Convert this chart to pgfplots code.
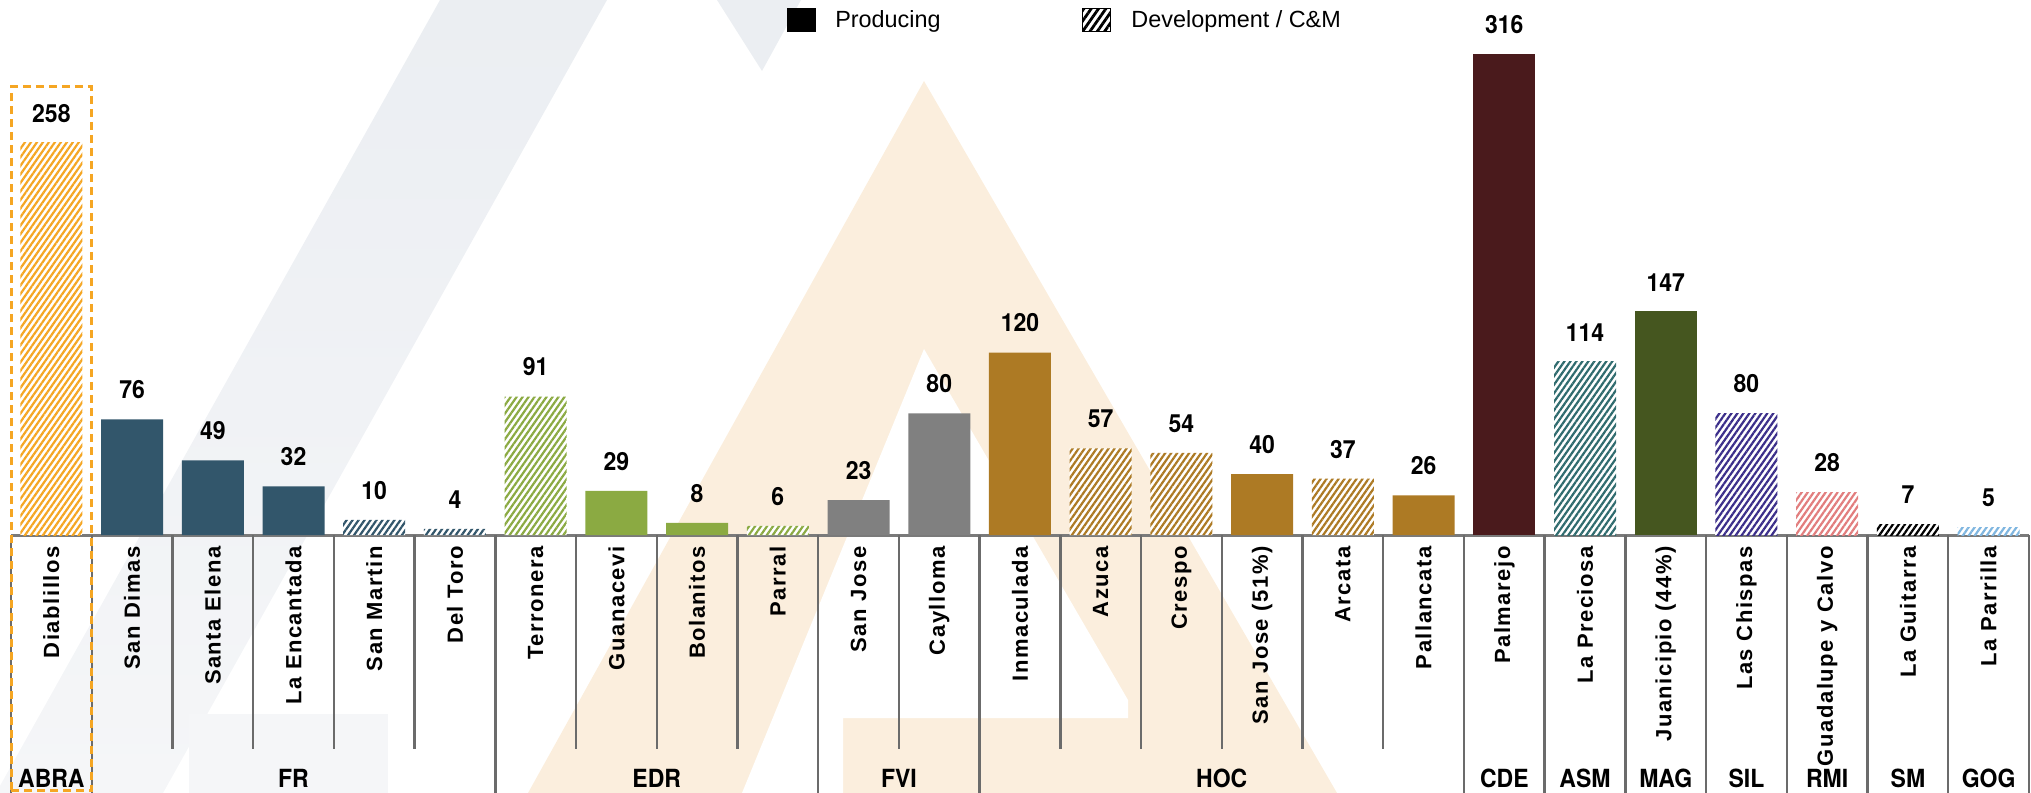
\documentclass[border=0pt]{standalone}
\usepackage{fontspec}
\setmainfont{Liberation Sans}
\newfontfamily\tickfam{Liberation Sans}[LetterSpace=7]
\newfontfamily\legfam{Liberation Sans}
\newfontfamily\condfont{TeX Gyre Heros}[FakeStretch=0.92]
\usepackage{pgfplots}
\pgfplotsset{compat=1.18}
\usetikzlibrary{patterns.meta}

\definecolor{frc}{HTML}{32566B}
\definecolor{edrc}{HTML}{8BAA42}
\definecolor{fvic}{HTML}{808080}
\definecolor{hocc}{HTML}{AD7A24}
\definecolor{cdec}{HTML}{4A1A1C}
\definecolor{asmc}{HTML}{2F6B6E}
\definecolor{magc}{HTML}{45561F}
\definecolor{silc}{HTML}{3B2E8A}
\definecolor{rmic}{HTML}{E27D7D}
\definecolor{smc}{HTML}{000000}
\definecolor{gogc}{HTML}{7FB6E0}
\definecolor{abrac}{HTML}{F5A623}
\definecolor{sepc}{HTML}{6B6B6B}
\definecolor{basec}{HTML}{7A7A7A}
\definecolor{wmgray}{HTML}{EBEEF2}
\definecolor{wmgraylight}{HTML}{F5F6F8}
\definecolor{wmbeige}{HTML}{FBEEDD}

\newcommand\vallab{\condfont\bfseries\fontsize{12.5}{13}\selectfont}
\newcommand\tickfont{\tickfam\bfseries\fontsize{11}{11}\selectfont}
\newcommand\leglab{\legfam\fontsize{11.7}{12}\selectfont}

\tikzset{
  solidbar/.style={fill=#1, draw=none, bar shift=0pt},
  hatchbar/.style={fill=white, draw=none, bar shift=0pt,
    postaction={pattern={Lines[angle=55,distance=2.45pt,line width=1.1pt]}, pattern color=#1}},
}

\begin{document}
\begin{tikzpicture}
% faint background logo
\begin{scope}[x=0.5pt,y=-0.5pt,shift={(-5.5pt,267.5pt)}]
  \shade[top color=wmgray, bottom color=wmgraylight] (-4,793) -- (163,793) -- (607,0) -- (440,0) -- cycle;
  \fill[wmgray] (717,0) -- (801,0) -- (762,71) -- cycle;
  \fill[wmgraylight] (189,714) rectangle (388,793);
  \fill[wmbeige] (924,81) -- (1337,793) -- (528,793) -- cycle;
  \fill[white] (924,349) -- (1128,700) -- (1128,718) -- (843,718) -- (843,793) -- (742,793) -- cycle;
\end{scope}

\begin{axis}[
  at={(0,0)}, anchor=south west,
  width=1009pt, height=267.5pt, scale only axis,
  xmin=-0.5, xmax=24.5, ymin=0, ymax=351.8,
  clip=false,
  axis x line=bottom, axis y line=none,
  x axis line style={draw=basec, line width=1.5pt, -},
  xtick={0,...,24},
  xticklabels={Diablillos, San Dimas, Santa Elena, La Encantada, San Martin, Del Toro,
    Terronera, Guanacevi, Bolanitos, Parral, San Jose, Caylloma, Inmaculada, Azuca,
    Crespo, San Jose (51\%), Arcata, Pallancata, Palmarejo, La Preciosa,
    Juanicipio (44\%), Las Chispas, Guadalupe y Calvo, La Guitarra, La Parrilla},
  major tick length=0pt,
  xticklabel style={rotate=90, anchor=east, inner sep=0pt, font=\tickfont},
  xticklabel shift=5.5pt,
  ytick=\empty,
  ybar, bar width=31pt,
  nodes near coords,
  every node near coord/.append style={font=\vallab, anchor=south, inner sep=0pt, yshift=10pt, text=black,
    /pgf/number format/assume math mode=true},
  legend style={at={(rel axis cs:0.3841,1)}, anchor=north west, yshift=-3pt,
    draw=none, fill=none, legend columns=2, inner xsep=0pt, inner ysep=0pt,
    font=\leglab, cells={anchor=west},
    /tikz/every odd column/.append style={column sep=8pt},
    /tikz/every even column/.append style={column sep=68pt}},
]
\addlegendimage{legend image code/.code={\fill[black] (0pt,-5.75pt) rectangle (14pt,5.75pt);}}
\addlegendentry{Producing}
\addlegendimage{legend image code/.code={\path[pattern={Lines[angle=55,distance=3pt,line width=1.4pt]}, pattern color=black] (0pt,-5.75pt) rectangle (14pt,5.75pt);}}
\addlegendentry{Development / C\&M}

% ABRA
\addplot[hatchbar=abrac] coordinates {(0,258)};
% FR
\addplot[solidbar=frc] coordinates {(1,76) (2,49) (3,32)};
\addplot[hatchbar=frc] coordinates {(4,10) (5,4)};
% EDR
\addplot[hatchbar=edrc] coordinates {(6,91) (9,6)};
\addplot[solidbar=edrc] coordinates {(7,29) (8,8)};
% FVI
\addplot[solidbar=fvic] coordinates {(10,23) (11,80)};
% HOC
\addplot[solidbar=hocc] coordinates {(12,120) (15,40) (17,26)};
\addplot[hatchbar=hocc] coordinates {(13,57) (14,54) (16,37)};
% CDE
\addplot[solidbar=cdec] coordinates {(18,316)};
% ASM
\addplot[hatchbar=asmc] coordinates {(19,114)};
% MAG
\addplot[solidbar=magc] coordinates {(20,147)};
% SIL
\addplot[hatchbar=silc] coordinates {(21,80)};
% RMI
\addplot[hatchbar=rmic] coordinates {(22,28)};
% SM
\addplot[hatchbar=smc] coordinates {(23,7)};
% GOG
\addplot[hatchbar=gogc] coordinates {(24,5)};

% separators
\pgfplotsinvokeforeach{1.5,2.5,3.5,4.5,6.5,7.5,8.5,10.5,12.5,13.5,14.5,15.5,16.5}{
  \draw[sepc, line width=1.2pt] (axis cs:#1,0) -- (axis cs:#1,-140.6);
}
\pgfplotsinvokeforeach{-0.5,0.5,5.5,9.5,11.5,17.5,18.5,19.5,20.5,21.5,22.5,23.5,24.5}{
  \draw[sepc, line width=1.2pt] (axis cs:#1,0) -- (axis cs:#1,-169.7);
}
% group labels
\node[font=\vallab] at (axis cs:0,-160.1) {ABRA};
\node[font=\vallab] at (axis cs:3,-160.1) {FR};
\node[font=\vallab] at (axis cs:7.5,-160.1) {EDR};
\node[font=\vallab] at (axis cs:10.5,-160.1) {FVI};
\node[font=\vallab] at (axis cs:14.5,-160.1) {HOC};
\node[font=\vallab] at (axis cs:18,-160.1) {CDE};
\node[font=\vallab] at (axis cs:19,-160.1) {ASM};
\node[font=\vallab] at (axis cs:20,-160.1) {MAG};
\node[font=\vallab] at (axis cs:21,-160.1) {SIL};
\node[font=\vallab] at (axis cs:22,-160.1) {RMI};
\node[font=\vallab] at (axis cs:23,-160.1) {SM};
\node[font=\vallab] at (axis cs:24,-160.1) {GOG};
% ABRA highlight box
\draw[abrac, line width=1.5pt, dash pattern=on 4pt off 2.5pt] (axis cs:-0.5,-167.7) rectangle (axis cs:0.5,294.7);
\end{axis}
\pgfresetboundingbox
\path[use as bounding box] (-5.5pt,-129pt) rectangle (1010pt,267.5pt);
\end{tikzpicture}
\end{document}
